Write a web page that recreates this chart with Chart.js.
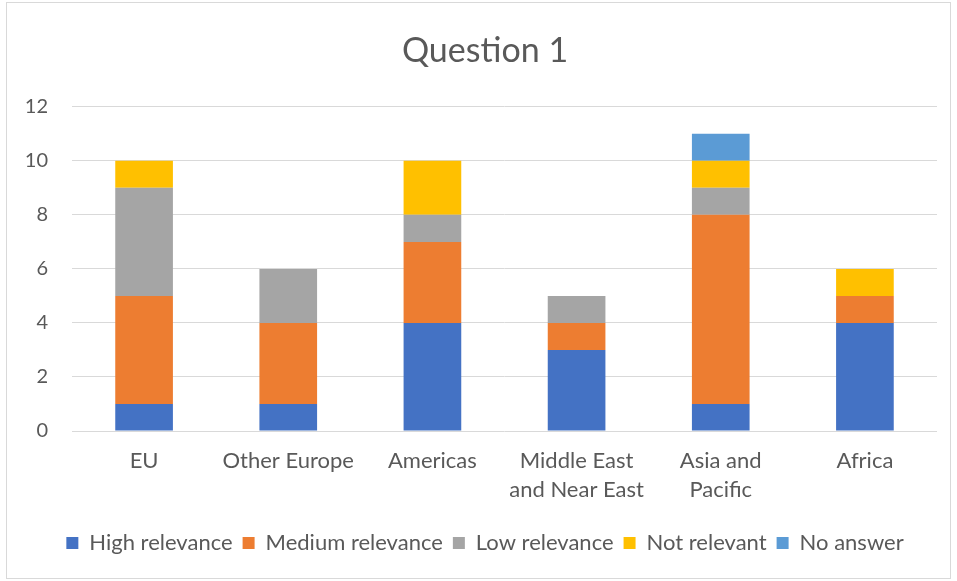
<!DOCTYPE html>
<html>
<head>
<meta charset="utf-8">
<script src="https://cdn.jsdelivr.net/npm/chart.js@4"></script>
<style>
  html, body { margin: 0; padding: 0; background: #fff; }
  #wrap { position: relative; width: 957px; height: 581px; }
  #frame { position: absolute; left: 6px; top: 2px; width: 943px; height: 575px; border: 1px solid #d9d9d9; }
  canvas#graphCanvas { position: absolute; left: 0; top: 0; }
</style>
</head>
<body>
<div id="wrap">
  <div id="frame"></div>
  <canvas id="graphCanvas" width="957" height="581"></canvas>
</div>
<script>
// regions on the x axis
const regions = ['EU', 'Other Europe', 'Americas', ['Middle East', 'and Near East'], ['Asia and', 'Pacific'], 'Africa'];

// answer counts per region
const highRelevance   = [1, 1, 4, 3, 1, 4];
const mediumRelevance = [4, 3, 3, 1, 7, 1];
const lowRelevance    = [4, 2, 1, 1, 1, 0];
const notRelevant     = [1, 0, 2, 0, 1, 1];
const noAnswer        = [0, 0, 0, 0, 1, 0];

const yTicks = [0, 2, 4, 6, 8, 10, 12];

const textColor = '#595959';
const fontName = 'Lato, "Open Sans", sans-serif';

Chart.defaults.font.family = fontName;
Chart.defaults.color = textColor;

function ds(label, data, color) {
    return {
        label: label,
        data: data,
        backgroundColor: color,
        borderColor: color,
        borderWidth: 0,
        barPercentage: 0.4,
        categoryPercentage: 1.0
    };
}

const ctx = document.getElementById('graphCanvas');
const myChart = new Chart(ctx, {
    type: 'bar',
    data: {
        labels: regions,
        datasets: [
            ds('High relevance', highRelevance, '#4472C4'),
            ds('Medium relevance', mediumRelevance, '#ED7D31'),
            ds('Low relevance', lowRelevance, '#A5A5A5'),
            ds('Not relevant', notRelevant, '#FFC000'),
            ds('No answer', noAnswer, '#5B9BD5')
        ]
    },
    options: {
        responsive: false,
        animation: false,
        layout: { padding: { left: 13, right: 0, top: 0, bottom: 17 } },
        plugins: {
            title: {
                display: true,
                text: 'Question 1',
                color: textColor,
                font: { size: 34, weight: 'normal' },
                padding: { top: 31, bottom: 35 }
            },
            legend: {
                position: 'bottom',
                labels: {
                    boxWidth: 12,
                    boxHeight: 12,
                    padding: 10,
                    color: textColor,
                    font: { size: 22 }
                }
            },
            tooltip: { enabled: false }
        },
        scales: {
            x: {
                stacked: true,
                grid: { display: false, drawTicks: false },
                border: { display: false },
                ticks: {
                    color: textColor,
                    font: { size: 22, lineHeight: 1.34 },
                    padding: 15,
                    maxRotation: 0,
                    autoSkip: false
                },
                afterFit: function (scale) { scale.height = 91; }
            },
            y: {
                stacked: true,
                min: 0,
                max: 12,
                afterBuildTicks: function (scale) {
                    scale.ticks = yTicks.map(v => ({ value: v }));
                },
                grid: { color: '#d9d9d9', lineWidth: 1, drawTicks: false },
                border: { display: false },
                ticks: {
                    color: textColor,
                    font: { size: 20 },
                    padding: 24
                },
                afterFit: function (scale) { scale.width = 59; }
            },
            // empty right margin so the plot ends before the frame
            spacer: {
                type: 'linear',
                position: 'right',
                grid: { display: false, drawTicks: false },
                border: { display: false },
                ticks: { display: false },
                afterFit: function (scale) { scale.width = 20; }
            }
        }
    }
});
</script>
</body>
</html>
